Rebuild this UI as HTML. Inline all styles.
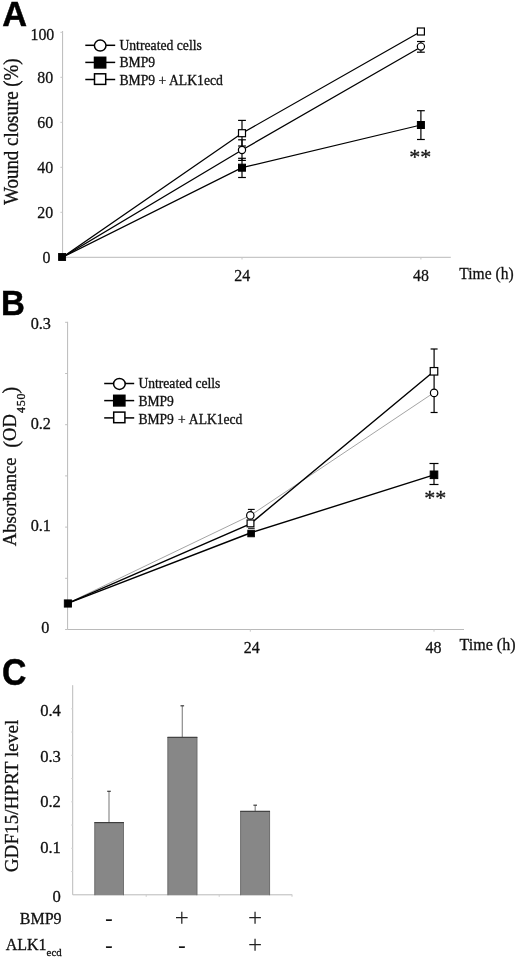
<!DOCTYPE html>
<html><head><meta charset="utf-8"><title>Figure</title>
<style>html,body{margin:0;padding:0;background:#fff}svg{display:block;will-change:transform;transform:translateZ(0)}text{font-family:"Liberation Serif", serif;fill:#111;stroke:#111;stroke-width:0.3px}text.pl{font-family:"Liberation Sans", sans-serif;font-weight:bold;fill:#000;stroke:#000;stroke-width:0.5px}</style>
</head><body>
<svg width="520" height="959" viewBox="0 0 520 959">
<text transform="translate(2.3,25.7) scale(0.955,1.0)" font-size="36" text-anchor="start" class="pl" font-weight="bold">A</text>
<line x1="62.6" y1="31" x2="62.6" y2="257.3" stroke="#bababa" stroke-width="1"/>
<line x1="62.6" y1="257.3" x2="450.8" y2="257.3" stroke="#bababa" stroke-width="1"/>
<line x1="60.4" y1="257.3" x2="62.6" y2="257.3" stroke="#c8c8c8" stroke-width="1"/>
<text transform="translate(50.4,262.7) scale(0.915,1)" font-size="17.4" text-anchor="end">0</text>
<line x1="60.4" y1="212.3" x2="62.6" y2="212.3" stroke="#c8c8c8" stroke-width="1"/>
<text transform="translate(53.2,218.1) scale(0.915,1)" font-size="17.4" text-anchor="end">20</text>
<line x1="60.4" y1="167.3" x2="62.6" y2="167.3" stroke="#c8c8c8" stroke-width="1"/>
<text transform="translate(53.2,173.0) scale(0.915,1)" font-size="17.4" text-anchor="end">40</text>
<line x1="60.4" y1="122.30000000000001" x2="62.6" y2="122.30000000000001" stroke="#c8c8c8" stroke-width="1"/>
<text transform="translate(53.2,128.2) scale(0.915,1)" font-size="17.4" text-anchor="end">60</text>
<line x1="60.4" y1="77.30000000000001" x2="62.6" y2="77.30000000000001" stroke="#c8c8c8" stroke-width="1"/>
<text transform="translate(53.2,83.4) scale(0.915,1)" font-size="17.4" text-anchor="end">80</text>
<line x1="60.4" y1="32.30000000000001" x2="62.6" y2="32.30000000000001" stroke="#c8c8c8" stroke-width="1"/>
<text transform="translate(54.3,39.6) scale(0.915,1)" font-size="17.4" text-anchor="end">100</text>
<line x1="242.0" y1="257.3" x2="242.0" y2="259.5" stroke="#c8c8c8" stroke-width="1"/>
<line x1="420.9" y1="257.3" x2="420.9" y2="259.5" stroke="#c8c8c8" stroke-width="1"/>
<text transform="translate(242.3,280.7) scale(0.915,1)" font-size="17.4" text-anchor="middle">24</text>
<text transform="translate(421.0,280.7) scale(0.915,1)" font-size="17.4" text-anchor="middle">48</text>
<text transform="translate(459.3,278.8) scale(0.89,1)" font-size="17.5" text-anchor="start">Time (h)</text>
<text transform="translate(17.9,204.8) rotate(-90) scale(1,1.06)" font-size="18.9">Wound closure (%)</text>
<line x1="85.3" y1="45.3" x2="115.2" y2="45.3" stroke="#000" stroke-width="1.5"/>
<ellipse cx="100.2" cy="45.599999999999994" rx="5.8" ry="5.5" fill="#fff" stroke="#000" stroke-width="1.5"/>
<text x="119.4" y="49.6" font-size="13.7" text-anchor="start">Untreated cells</text>
<line x1="85.3" y1="62.4" x2="115.2" y2="62.4" stroke="#000" stroke-width="1.5"/>
<rect x="94.5" y="57.300000000000004" width="11.2" height="10.6" fill="#000" stroke="#000" stroke-width="1.5"/>
<text x="119.4" y="67.3" font-size="13.7" text-anchor="start">BMP9</text>
<line x1="85.3" y1="79.5" x2="115.2" y2="79.5" stroke="#000" stroke-width="1.5"/>
<rect x="94.5" y="73.8" width="11.2" height="10.6" fill="#fff" stroke="#000" stroke-width="1.5"/>
<text x="119.4" y="84.8" font-size="13.7" text-anchor="start">BMP9 + ALK1ecd</text>
<polyline points="62.4,257.3 242.0,133.2 420.9,31.5" fill="none" stroke="#000" stroke-width="1.28"/>
<polyline points="62.4,257.3 242.0,150.0 420.9,47.0" fill="none" stroke="#000" stroke-width="1.28"/>
<polyline points="62.4,257.3 242.0,167.7 420.9,125.0" fill="none" stroke="#000" stroke-width="1.28"/>
<line x1="242.0" y1="120.4" x2="242.0" y2="146" stroke="#000" stroke-width="1.2"/>
<line x1="238.1" y1="120.4" x2="245.9" y2="120.4" stroke="#000" stroke-width="1.2"/>
<line x1="238.1" y1="146" x2="245.9" y2="146" stroke="#000" stroke-width="1.2"/>
<line x1="242.0" y1="139.8" x2="242.0" y2="160.4" stroke="#000" stroke-width="1.2"/>
<line x1="238.1" y1="139.8" x2="245.9" y2="139.8" stroke="#000" stroke-width="1.2"/>
<line x1="238.1" y1="160.4" x2="245.9" y2="160.4" stroke="#000" stroke-width="1.2"/>
<line x1="242.0" y1="158.3" x2="242.0" y2="177.5" stroke="#000" stroke-width="1.2"/>
<line x1="238.1" y1="158.3" x2="245.9" y2="158.3" stroke="#000" stroke-width="1.2"/>
<line x1="238.1" y1="177.5" x2="245.9" y2="177.5" stroke="#000" stroke-width="1.2"/>
<line x1="420.9" y1="41.5" x2="420.9" y2="52.2" stroke="#000" stroke-width="1.2"/>
<line x1="417.0" y1="41.5" x2="424.79999999999995" y2="41.5" stroke="#000" stroke-width="1.2"/>
<line x1="417.0" y1="52.2" x2="424.79999999999995" y2="52.2" stroke="#000" stroke-width="1.2"/>
<line x1="420.9" y1="110.7" x2="420.9" y2="139.5" stroke="#000" stroke-width="1.2"/>
<line x1="417.0" y1="110.7" x2="424.79999999999995" y2="110.7" stroke="#000" stroke-width="1.2"/>
<line x1="417.0" y1="139.5" x2="424.79999999999995" y2="139.5" stroke="#000" stroke-width="1.2"/>
<rect x="238.5" y="129.7" width="7.0" height="7.0" fill="#fff" stroke="#000" stroke-width="1.2"/>
<circle cx="242.0" cy="150.0" r="3.6" fill="#fff" stroke="#000" stroke-width="1.2"/>
<rect x="238.5" y="164.2" width="7.0" height="7.0" fill="#000" stroke="#000" stroke-width="1.0"/>
<rect x="417.4" y="28.0" width="7.0" height="7.0" fill="#fff" stroke="#000" stroke-width="1.2"/>
<circle cx="420.9" cy="46.6" r="3.6" fill="#fff" stroke="#000" stroke-width="1.2"/>
<rect x="417.4" y="121.5" width="7.0" height="7.0" fill="#000" stroke="#000" stroke-width="1.0"/>
<rect x="58.6" y="253.5" width="7.0" height="7.0" fill="#000" stroke="#000" stroke-width="0.9"/>
<text x="420.3" y="163.6" font-size="22" text-anchor="middle">**</text>
<text transform="translate(0.9,315.4) scale(0.93,1.0)" font-size="35.5" text-anchor="start" class="pl" font-weight="bold">B</text>
<line x1="67.6" y1="321.8" x2="67.6" y2="629.5" stroke="#bababa" stroke-width="1"/>
<line x1="67.6" y1="629.5" x2="464" y2="629.5" stroke="#bababa" stroke-width="1"/>
<line x1="65.1" y1="629.5" x2="67.6" y2="629.5" stroke="#c0c0c0" stroke-width="1"/>
<line x1="65.1" y1="578.3" x2="67.6" y2="578.3" stroke="#c0c0c0" stroke-width="1"/>
<line x1="65.1" y1="527.1" x2="67.6" y2="527.1" stroke="#c0c0c0" stroke-width="1"/>
<line x1="65.1" y1="475.9" x2="67.6" y2="475.9" stroke="#c0c0c0" stroke-width="1"/>
<line x1="65.1" y1="424.7" x2="67.6" y2="424.7" stroke="#c0c0c0" stroke-width="1"/>
<line x1="65.1" y1="373.5" x2="67.6" y2="373.5" stroke="#c0c0c0" stroke-width="1"/>
<line x1="65.1" y1="322.29999999999995" x2="67.6" y2="322.29999999999995" stroke="#c0c0c0" stroke-width="1"/>
<text x="49.3" y="633.4" font-size="16.2" text-anchor="end">0</text>
<text x="50.9" y="531.1" font-size="16.2" text-anchor="end">0.1</text>
<text x="50.9" y="429.0" font-size="16.2" text-anchor="end">0.2</text>
<text x="50.9" y="329.4" font-size="16.2" text-anchor="end">0.3</text>
<line x1="250.3" y1="629.5" x2="250.3" y2="631.7" stroke="#c8c8c8" stroke-width="1"/>
<line x1="434" y1="629.5" x2="434" y2="631.7" stroke="#c8c8c8" stroke-width="1"/>
<text x="251.8" y="652.9" font-size="16" text-anchor="middle">24</text>
<text x="433.6" y="652.8" font-size="16" text-anchor="middle">48</text>
<text x="459.6" y="650.2" font-size="16.0" text-anchor="start">Time (h)</text>
<text transform="translate(15.8,546.3) rotate(-90)" font-size="18.6">Absorbance</text>
<text transform="translate(17.6,447.8) rotate(-90) scale(1.08,1.1)" font-size="18.6">(</text>
<text transform="translate(15.8,441.0) rotate(-90)" font-size="18.6">OD</text>
<text transform="translate(24.8,413.0) rotate(-90)" font-size="12" letter-spacing="0.7">450</text>
<text transform="translate(17.4,393.4) rotate(-90) scale(1.08,1.1)" font-size="18.6">)</text>
<line x1="104.2" y1="383.5" x2="134.2" y2="383.5" stroke="#000" stroke-width="1.5"/>
<ellipse cx="119.4" cy="383.9" rx="5.8" ry="5.5" fill="#fff" stroke="#000" stroke-width="1.5"/>
<text x="138.4" y="388.2" font-size="13.6" text-anchor="start">Untreated cells</text>
<line x1="104.2" y1="400.6" x2="134.2" y2="400.6" stroke="#000" stroke-width="1.5"/>
<rect x="113.7" y="395.3" width="11.2" height="10.6" fill="#000" stroke="#000" stroke-width="1.5"/>
<text x="138.4" y="406.0" font-size="13.6" text-anchor="start">BMP9</text>
<line x1="104.2" y1="417.9" x2="134.2" y2="417.9" stroke="#000" stroke-width="1.5"/>
<rect x="113.7" y="412.09999999999997" width="11.2" height="10.6" fill="#fff" stroke="#000" stroke-width="1.5"/>
<text x="138.4" y="423.6" font-size="13.6" text-anchor="start" word-spacing="0.6">BMP9 + ALK1ecd</text>
<polyline points="67.6,603.3 250.3,515.5 434,392.6" fill="none" stroke="#9a9a9a" stroke-width="0.9"/>
<polyline points="67.6,603.3 250.3,523.8 434,371.2" fill="none" stroke="#000" stroke-width="1.4"/>
<polyline points="67.6,603.3 250.3,533 434,474.8" fill="none" stroke="#000" stroke-width="1.4"/>
<line x1="434.1" y1="349.0" x2="434.1" y2="412.5" stroke="#000" stroke-width="1.2"/>
<line x1="430.6" y1="349.0" x2="437.6" y2="349.0" stroke="#000" stroke-width="1.2"/>
<line x1="430.6" y1="412.5" x2="437.6" y2="412.5" stroke="#000" stroke-width="1.2"/>
<line x1="434" y1="463.5" x2="434" y2="484.5" stroke="#000" stroke-width="1.2"/>
<line x1="429.5" y1="463.5" x2="438.5" y2="463.5" stroke="#000" stroke-width="1.2"/>
<line x1="429.5" y1="484.5" x2="438.5" y2="484.5" stroke="#000" stroke-width="1.2"/>
<line x1="251.10000000000002" y1="509.4" x2="251.10000000000002" y2="515" stroke="#000" stroke-width="1.1"/>
<line x1="247.9" y1="509.4" x2="254.70000000000002" y2="509.4" stroke="#000" stroke-width="1.1"/>
<line x1="248.10000000000002" y1="528.3" x2="254.70000000000002" y2="528.3" stroke="#000" stroke-width="1.0"/>
<circle cx="250.3" cy="515.4" r="3.7" fill="#fff" stroke="#000" stroke-width="1.2"/>
<rect x="247.1" y="520.0" width="6.8" height="6.8" fill="#fff" stroke="#000" stroke-width="1.2"/>
<rect x="247.8" y="530.2" width="6.6" height="6.6" fill="#000" stroke="#000" stroke-width="0.9"/>
<rect x="430.25" y="367.55" width="7.5" height="7.5" fill="#fff" stroke="#000" stroke-width="1.2"/>
<circle cx="434.1" cy="392.9" r="3.7" fill="#fff" stroke="#000" stroke-width="1.2"/>
<rect x="430.2" y="471.0" width="7.6" height="7.6" fill="#000" stroke="#000" stroke-width="1.0"/>
<rect x="64.30000000000001" y="599.9" width="7.2" height="7.2" fill="#000" stroke="#000" stroke-width="0.9"/>
<text x="435.3" y="505.0" font-size="22" text-anchor="middle">**</text>
<text transform="translate(2.0,684.7) scale(0.95,1.06)" font-size="35.5" text-anchor="start" class="pl" font-weight="bold">C</text>
<line x1="72.7" y1="685.2" x2="72.7" y2="894.8" stroke="#bababa" stroke-width="1"/>
<line x1="72.7" y1="894.8" x2="292.3" y2="894.8" stroke="#bababa" stroke-width="1"/>
<line x1="71.2" y1="871.55" x2="72.7" y2="871.55" stroke="#d4d4d4" stroke-width="1"/>
<line x1="71.2" y1="848.3" x2="72.7" y2="848.3" stroke="#d4d4d4" stroke-width="1"/>
<line x1="71.2" y1="825.05" x2="72.7" y2="825.05" stroke="#d4d4d4" stroke-width="1"/>
<line x1="71.2" y1="801.8" x2="72.7" y2="801.8" stroke="#d4d4d4" stroke-width="1"/>
<line x1="71.2" y1="778.55" x2="72.7" y2="778.55" stroke="#d4d4d4" stroke-width="1"/>
<line x1="71.2" y1="755.3" x2="72.7" y2="755.3" stroke="#d4d4d4" stroke-width="1"/>
<line x1="71.2" y1="732.05" x2="72.7" y2="732.05" stroke="#d4d4d4" stroke-width="1"/>
<line x1="71.2" y1="708.8" x2="72.7" y2="708.8" stroke="#d4d4d4" stroke-width="1"/>
<line x1="146.2" y1="894.8" x2="146.2" y2="896.8" stroke="#cccccc" stroke-width="1"/>
<line x1="219.2" y1="894.8" x2="219.2" y2="896.8" stroke="#cccccc" stroke-width="1"/>
<line x1="292.0" y1="894.8" x2="292.0" y2="896.8" stroke="#cccccc" stroke-width="1"/>
<text x="60.9" y="901.5" font-size="16.6" text-anchor="end">0</text>
<text x="60.9" y="853.1" font-size="16.6" text-anchor="end">0.1</text>
<text x="60.9" y="806.9" font-size="16.6" text-anchor="end">0.2</text>
<text x="60.9" y="762.1" font-size="16.6" text-anchor="end">0.3</text>
<text x="60.9" y="716.2" font-size="16.6" text-anchor="end">0.4</text>
<text transform="translate(18.2,872.3) rotate(-90)" font-size="19.2">GDF15/HPRT level</text>
<line x1="109.0" y1="791.3" x2="109.0" y2="822.3" stroke="#8c8c8c" stroke-width="1.2"/>
<line x1="107.2" y1="791.3" x2="110.8" y2="791.3" stroke="#3c3c3c" stroke-width="1.2"/>
<rect x="94.4" y="822.3" width="29.5" height="72.9" fill="#878787"/>
<line x1="94.80000000000001" y1="822.3" x2="94.80000000000001" y2="895.1999999999999" stroke="#6a6a6a" stroke-width="0.8"/>
<line x1="123.5" y1="822.3" x2="123.5" y2="895.1999999999999" stroke="#6a6a6a" stroke-width="0.8"/>
<line x1="94.4" y1="822.5999999999999" x2="123.9" y2="822.5999999999999" stroke="#383838" stroke-width="1.1"/>
<line x1="182.3" y1="705.8" x2="182.3" y2="737.0" stroke="#8c8c8c" stroke-width="1.2"/>
<line x1="180.5" y1="705.8" x2="184.10000000000002" y2="705.8" stroke="#3c3c3c" stroke-width="1.2"/>
<rect x="167.5" y="737.0" width="29.8" height="158.2" fill="#878787"/>
<line x1="167.9" y1="737.0" x2="167.9" y2="895.1999999999999" stroke="#6a6a6a" stroke-width="0.8"/>
<line x1="196.9" y1="737.0" x2="196.9" y2="895.1999999999999" stroke="#6a6a6a" stroke-width="0.8"/>
<line x1="167.5" y1="737.3" x2="197.3" y2="737.3" stroke="#383838" stroke-width="1.1"/>
<line x1="255.2" y1="805.2" x2="255.2" y2="811.0" stroke="#8c8c8c" stroke-width="1.2"/>
<line x1="253.39999999999998" y1="805.2" x2="257.0" y2="805.2" stroke="#3c3c3c" stroke-width="1.2"/>
<rect x="240.2" y="811.0" width="29.8" height="84.2" fill="#878787"/>
<line x1="240.6" y1="811.0" x2="240.6" y2="895.1999999999999" stroke="#6a6a6a" stroke-width="0.8"/>
<line x1="269.6" y1="811.0" x2="269.6" y2="895.1999999999999" stroke="#6a6a6a" stroke-width="0.8"/>
<line x1="240.2" y1="811.3" x2="270.0" y2="811.3" stroke="#383838" stroke-width="1.1"/>
<text x="61.6" y="923.9" font-size="16" text-anchor="end">BMP9</text>
<text x="61.6" y="950.0" font-size="16" text-anchor="end">ALK1<tspan font-size="10.8" dy="5.8">ecd</tspan></text>
<text x="108.8" y="925.4" font-size="22" text-anchor="middle" style="stroke-width:0.2px;fill:#111">-</text>
<text x="181.8" y="926.4" font-size="25" text-anchor="middle" style="stroke-width:0;fill:#222">+</text>
<text x="255.0" y="926.4" font-size="25" text-anchor="middle" style="stroke-width:0;fill:#222">+</text>
<text x="108.8" y="952.4" font-size="22" text-anchor="middle" style="stroke-width:0.2px;fill:#111">-</text>
<text x="181.8" y="951.6" font-size="22" text-anchor="middle" style="stroke-width:0.2px;fill:#111">-</text>
<text x="255.0" y="952.5999999999999" font-size="25" text-anchor="middle" style="stroke-width:0;fill:#222">+</text>
</svg>
</body></html>
